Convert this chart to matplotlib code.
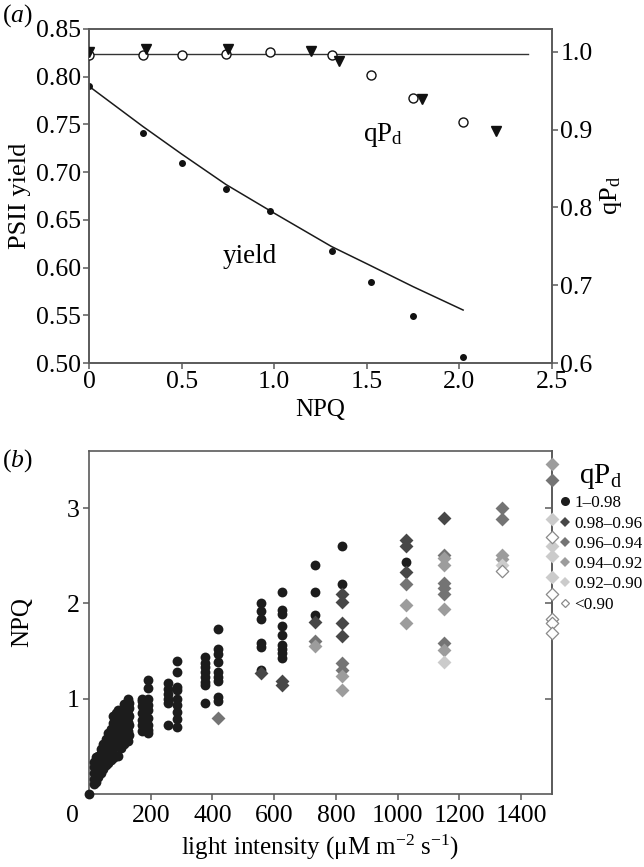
import matplotlib
matplotlib.use("Agg")
import matplotlib.pyplot as plt
import matplotlib.transforms as mtransforms
from matplotlib.lines import Line2D

plt.rcParams['font.family'] = ['Liberation Serif', 'DejaVu Serif']
plt.rcParams['mathtext.fontset'] = 'custom'
plt.rcParams['mathtext.rm'] = 'Liberation Serif'
plt.rcParams['mathtext.it'] = 'Liberation Serif:italic'

# ---------------- panel (a) data ----------------
npq_yield = [0.0, 0.29, 0.50, 0.74, 0.98, 1.31, 1.52, 1.75, 2.02]
psii_yield = [0.790, 0.741, 0.710, 0.682, 0.659, 0.617, 0.585, 0.549, 0.506]

fit_npq = [0.0, 0.29, 0.50, 0.74, 1.0, 1.31, 1.50, 1.75, 2.02]
fit_yield = [0.790, 0.748, 0.719, 0.687, 0.657, 0.622, 0.604, 0.580, 0.5555]

npq_qpd_open = [0.0, 0.29, 0.50, 0.74, 0.98, 1.31, 1.52, 1.75, 2.02]
qpd_open = [0.996, 0.996, 0.996, 0.997, 1.000, 0.996, 0.970, 0.940, 0.910]

npq_qpd_tri = [0.0, 0.31, 0.75, 1.20, 1.35, 1.80, 2.20]
qpd_tri = [1.000, 1.003, 1.004, 1.001, 0.988, 0.939, 0.898]

ref_line_npq = [0.0, 2.37]
ref_line_qpd = [0.997, 0.997]

# ---------------- panel (b) data ----------------
legend_labels = ['1–0.98', '0.98–0.96', '0.96–0.94', '0.94–0.92', '0.92–0.90', '<0.90']

light_c1 = ([0] + [15]*5 + [22]*5 + [30]*4 + [38]*5 + [46]*5 + [54]*5 + [62]*5 + [70]*5
            + [78]*6 + [86]*6 + [95]*6 + [105]*5 + [115]*6 + [125]*6 + [130]*5
            + [171]*7 + [192]*9 + [255]*6 + [286]*9 + [376]*8 + [419]*9
            + [557]*6 + [626]*9 + [732]*3 + [820]*2 + [1026])
npq_c1 = ([0.0]
          + [0.10, 0.16, 0.22, 0.28, 0.34]
          + [0.13, 0.20, 0.27, 0.33, 0.39]
          + [0.18, 0.25, 0.32, 0.40]
          + [0.22, 0.29, 0.36, 0.43, 0.47]
          + [0.26, 0.33, 0.40, 0.47, 0.53]
          + [0.30, 0.37, 0.44, 0.51, 0.58]
          + [0.33, 0.41, 0.48, 0.56, 0.64]
          + [0.36, 0.44, 0.52, 0.60, 0.68]
          + [0.38, 0.47, 0.56, 0.65, 0.74, 0.82]
          + [0.40, 0.50, 0.59, 0.68, 0.77, 0.85]
          + [0.40, 0.52, 0.62, 0.72, 0.80, 0.88]
          + [0.48, 0.58, 0.68, 0.76, 0.84]
          + [0.52, 0.62, 0.72, 0.80, 0.88, 0.94]
          + [0.56, 0.66, 0.76, 0.84, 0.92, 1.00]
          + [0.62, 0.72, 0.82, 0.90, 0.96]
          + [0.66, 0.72, 0.78, 0.85, 0.92, 0.98, 1.00]
          + [1.20, 1.11, 1.00, 0.93, 0.88, 0.80, 0.72, 0.67, 0.64]
          + [1.16, 1.10, 1.05, 1.00, 0.95, 0.72]
          + [1.40, 1.28, 1.12, 1.09, 1.00, 0.93, 0.86, 0.79, 0.70]
          + [1.44, 1.38, 1.33, 1.28, 1.23, 1.18, 1.14, 0.95]
          + [1.73, 1.52, 1.47, 1.385, 1.28, 1.23, 1.19, 1.02, 0.98]
          + [2.00, 1.92, 1.84, 1.58, 1.54, 1.30]
          + [2.12, 1.93, 1.89, 1.76, 1.67, 1.56, 1.52, 1.48, 1.43]
          + [2.40, 2.12, 1.88]
          + [2.60, 2.20]
          + [2.43])

light_c2 = [557, 626, 626, 732, 820, 820, 820, 820, 1026, 1026, 1026, 1150]
npq_c2 = [1.27, 1.19, 1.14, 1.81, 2.10, 2.01, 1.80, 1.66, 2.67, 2.60, 2.33, 2.90]

light_c3 = [419, 732, 820, 820, 1026, 1150, 1150, 1150, 1150, 1150, 1339, 1339, 1500]
npq_c3 = [0.80, 1.61, 1.37, 1.30, 2.20, 2.51, 2.21, 2.16, 2.10, 1.58, 3.00, 2.89, 3.30]

light_c4 = [732, 820, 820, 1026, 1026, 1150, 1150, 1150, 1150, 1339, 1339, 1500]
npq_c4 = [1.55, 1.24, 1.095, 1.98, 1.80, 2.48, 2.40, 1.94, 1.51, 2.51, 2.47, 3.46]

light_c5 = [1150, 1339, 1500, 1500, 1500, 1500]
npq_c5 = [1.39, 2.40, 2.89, 2.60, 2.50, 2.28]

light_c6 = [1339, 1500, 1500, 1500, 1500, 1500]
npq_c6 = [2.34, 2.70, 2.10, 1.84, 1.80, 1.69]

# ---------------- figure ----------------
fig = plt.figure(figsize=(6.44, 8.67), dpi=100)
spine_col = '#5a5a5a'
tick_fs = 18.5

# panel (a)
ax1 = fig.add_axes([89/644, 1-363/867, 463/644, 334/867])
ax1.plot(fit_npq, fit_yield, color='#1a1a1a', lw=1.1, zorder=2)
ax1.plot(npq_yield, psii_yield, 'o', color='#111111', ms=4, zorder=3)
ax1.set_xlim(0, 2.5)
ax1.set_ylim(0.50, 0.85)
ax1.set_xticks([0, 0.5, 1.0, 1.5, 2.0, 2.5])
ax1.set_xticklabels(['0', '0.5', '1.0', '1.5', '2.0', '2.5'])
ax1.set_yticks([0.50, 0.55, 0.60, 0.65, 0.70, 0.75, 0.80, 0.85])
ax1.set_yticklabels(['0.50', '0.55', '0.60', '0.65', '0.70', '0.75', '0.80', '0.85'])
ax1.set_xlabel('NPQ', fontsize=18, labelpad=4)
ax1.set_ylabel('PSII yield', fontsize=19, labelpad=3)

ax2 = ax1.twinx()
ax2.plot(ref_line_npq, ref_line_qpd, color='#333333', lw=1.0, zorder=2)
ax2.plot(npq_qpd_open, qpd_open, 'o', mfc='white', mec='#111111', mew=1.0, ms=6.5, zorder=3)
ax2.plot(npq_qpd_tri, qpd_tri, 'v', color='#111111', ms=7, zorder=4)
ax2.set_ylim(0.6, 1.0292)
ax2.set_yticks([0.6, 0.7, 0.8, 0.9, 1.0])
ax2.set_yticklabels(['0.6', '0.7', '0.8', '0.9', '1.0'])
ax2.set_ylabel('qP$_\\mathregular{d}$', fontsize=19, labelpad=4)

for a in (ax1, ax2):
    for s in a.spines.values():
        s.set_color(spine_col)
        s.set_linewidth(1.2)
    a.tick_params(direction='out', length=4, width=1.1, color=spine_col, labelsize=tick_fs, pad=2)

ax1.text(0.87, 0.612, 'yield', fontsize=19.5, ha='center', va='center')
ax1.text(1.587, 0.739, 'qP$_\\mathregular{d}$', fontsize=19.5, ha='center', va='center')
fig.text(2/644, 1-16/867, '($\\mathit{a}$)', fontsize=18.5, ha='left', va='center')

# panel (b)
ax3 = fig.add_axes([89/644, 1-794/867, 463/644, 343/867])
msz = 50
ax3.scatter(light_c1, npq_c1, s=msz, marker='o', color='#1c1c1c', linewidths=0, zorder=3, clip_on=False)
ax3.scatter(light_c2, npq_c2, s=msz, marker='D', color='#474747', linewidths=0, zorder=3, clip_on=False)
ax3.scatter(light_c3, npq_c3, s=msz, marker='D', color='#747474', linewidths=0, zorder=3, clip_on=False)
ax3.scatter(light_c4, npq_c4, s=msz, marker='D', color='#9c9c9c', linewidths=0, zorder=3, clip_on=False)
ax3.scatter(light_c5, npq_c5, s=msz, marker='D', color='#cbcbcb', linewidths=0, zorder=3, clip_on=False)
ax3.scatter(light_c6, npq_c6, s=msz*0.8, marker='D', facecolor='white', edgecolor='#8a8a8a', linewidths=0.9, zorder=4, clip_on=False)
ax3.set_xlim(0, 1500)
ax3.set_ylim(0, 3.6)
ax3.set_xticks([0, 200, 400, 600, 800, 1000, 1200, 1400])
ax3.set_xticklabels(['0', '200', '400', '600', '800', '1000', '1200', '1400'])
ax3.set_yticks([1, 2, 3])
ax3.set_yticklabels(['1', '2', '3'])
ax3.set_xlabel('light intensity (μM m$^{\\mathregular{−2}}$ s$^{\\mathregular{−1}}$)', fontsize=18, labelpad=4)
ax3.set_ylabel('NPQ', fontsize=18, labelpad=24)
for s in ax3.spines.values():
    s.set_color(spine_col)
    s.set_linewidth(1.2)
ax3.tick_params(direction='out', length=4, width=1.1, color=spine_col, labelsize=tick_fs, pad=3)
ax3.tick_params(axis='x', pad=4)
ax3.tick_params(axis='both', top=False)
# shift "0" x label left
lbl0 = ax3.get_xticklabels()[0]
lbl0.set_transform(lbl0.get_transform() + mtransforms.ScaledTranslation(-0.17, 0, fig.dpi_scale_trans))
ax3.xaxis.get_major_ticks()[0].tick1line.set_visible(False)

sec = ax3.secondary_yaxis('right')
sec.set_yticks([1, 2, 3])
sec.tick_params(direction='in', length=5, width=1.1, color=spine_col, labelright=False)
sec.spines['right'].set_color(spine_col)
sec.spines['right'].set_linewidth(1.2)

fig.text(2/644, 1-461/867, '($\\mathit{b}$)', fontsize=18.5, ha='left', va='center')

handles = [
    Line2D([], [], ls='', marker='o', color='#1c1c1c', ms=6.5, mew=0),
    Line2D([], [], ls='', marker='D', color='#474747', ms=5, mew=0),
    Line2D([], [], ls='', marker='D', color='#747474', ms=5, mew=0),
    Line2D([], [], ls='', marker='D', color='#9c9c9c', ms=5, mew=0),
    Line2D([], [], ls='', marker='D', color='#cbcbcb', ms=5, mew=0),
    Line2D([], [], ls='', marker='D', mfc='white', mec='#8a8a8a', ms=4.5, mew=0.9),
]
leg = fig.legend(handles, legend_labels, loc='upper left', bbox_to_anchor=(559/644, 1-462/867),
                 frameon=False, fontsize=12.3, handlelength=0.7, handletextpad=0.2,
                 labelspacing=0.25, borderaxespad=0, borderpad=0,
                 title='qP$_\\mathregular{d}$', title_fontsize=21)

fig.savefig('out.png', dpi=100)
